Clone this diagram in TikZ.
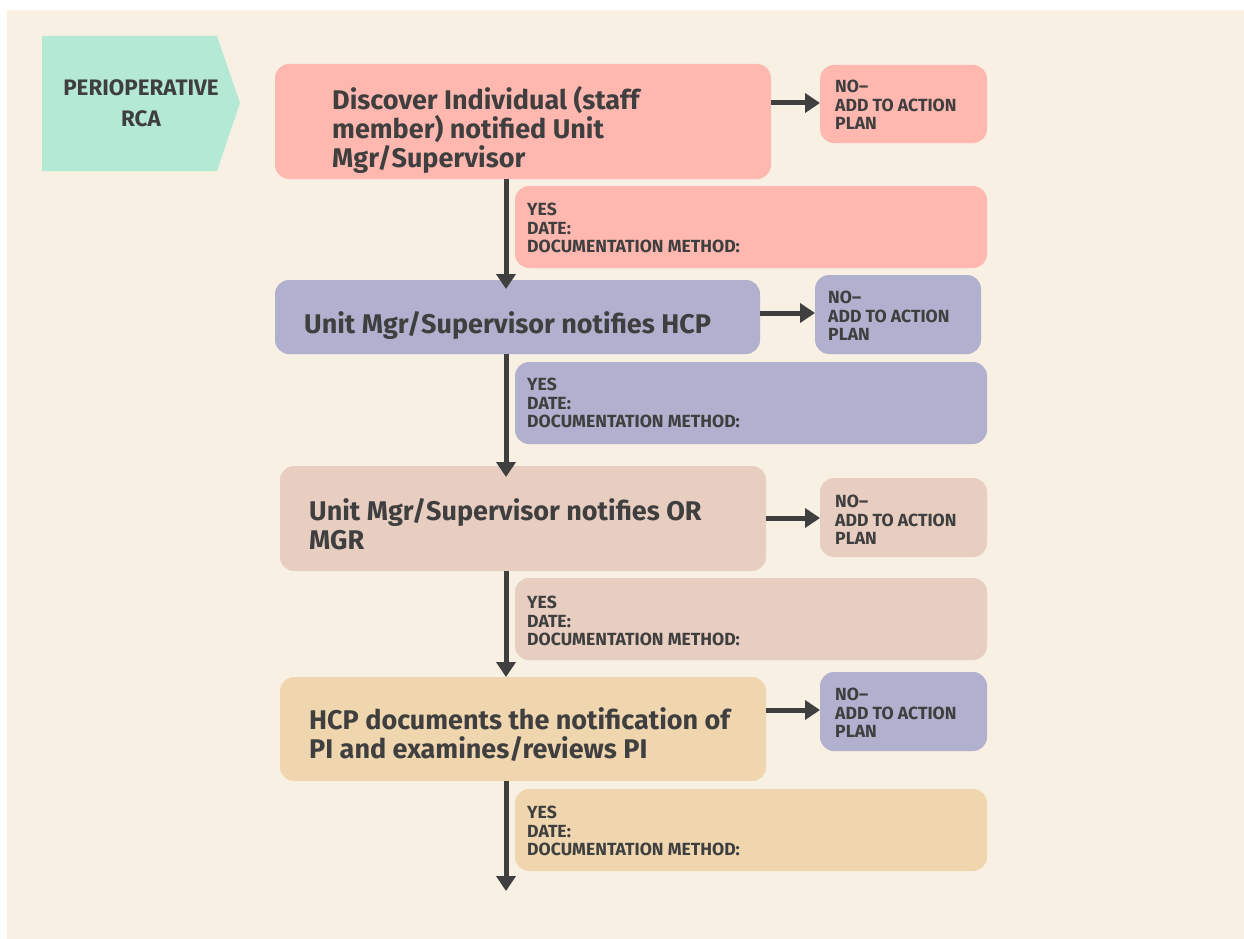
\documentclass[tikz,border=0pt]{standalone}
\usepackage{fontspec}
\setmainfont{Fira Sans}[UprightFont=* SemiBold,BoldFont=* Bold]
\usetikzlibrary{arrows.meta,positioning}
\definecolor{bgc}{HTML}{F8F0E2}
\definecolor{mint}{HTML}{B4E9D6}
\definecolor{pinkc}{HTML}{FFB8B0}
\definecolor{lav}{HTML}{B1B0CE}
\definecolor{rose}{HTML}{E8CDC1}
\definecolor{tan}{HTML}{EFD6AF}
\definecolor{ink}{HTML}{3F3F3F}
\begin{document}
\begin{tikzpicture}[x=1pt,y=-1pt,
  box/.style={rectangle,rounded corners=14pt,anchor=north west,inner sep=0pt,outer sep=0pt},
  bigtxt/.style={anchor=west,align=left,inner sep=0pt,text=ink,font=\fontsize{27}{29}\selectfont\bfseries},
  smalltxt/.style={anchor=north west,align=left,inner sep=0pt,text=ink,font=\fontsize{17.6}{18.5}\selectfont\bfseries},
  arr/.style={draw=ink,line width=5pt,-{Triangle[width=19pt,length=15pt]}}]
\useasboundingbox (0,0) rectangle (1244,939);
\fill[white] (0,0) rectangle (1244,939);
\fill[bgc] (7,10) rectangle (1244,939);
% start pentagon
\fill[mint] (42,36) -- (217,36) -- (240,103) -- (217,171) -- (42,171) -- cycle;
\node[anchor=center,align=center,inner sep=0pt,text=ink,font=\fontsize{22.4}{31}\selectfont\bfseries] (start) at (141,103) {PERIOPERATIVE\\RCA};
% main boxes
\node[box,fill=pinkc,minimum width=496pt,minimum height=115pt] (b1) at (275,64) {};
\node[box,fill=lav,minimum width=485pt,minimum height=74pt] (b2) at (275,280) {};
\node[box,fill=rose,minimum width=486pt,minimum height=105pt] (b3) at (280,466) {};
\node[box,fill=tan,minimum width=486pt,minimum height=104pt] (b4) at (280,677) {};
\node[bigtxt] (t1) at (332,130) {Discover Individual (staff\\member) notified Unit\\Mgr/Supervisor};
\node[bigtxt] (t2) at (304,325) {Unit Mgr/Supervisor notifies HCP};
\node[bigtxt] (t3) at (309,524) {Unit Mgr/Supervisor notifies OR\\MGR};
\node[bigtxt] (t4) at (309,735) {HCP documents the notification of\\PI and examines/reviews PI};
% NO boxes
\node[box,fill=pinkc,minimum width=167pt,minimum height=78pt] (n1) at (820,65) {};
\node[box,fill=lav,minimum width=166pt,minimum height=79pt] (n2) at (815,275) {};
\node[box,fill=rose,minimum width=167pt,minimum height=79pt] (n3) at (820,478) {};
\node[box,fill=lav,minimum width=167pt,minimum height=79pt] (n4) at (820,672) {};
\node[smalltxt] (nt1) at (835,80) {NO--\\ADD TO ACTION\\PLAN};
\node[smalltxt] (nt2) at (828,291) {NO--\\ADD TO ACTION\\PLAN};
\node[smalltxt] (nt3) at (835,495) {NO--\\ADD TO ACTION\\PLAN};
\node[smalltxt] (nt4) at (835,688) {NO--\\ADD TO ACTION\\PLAN};
% YES boxes
\node[box,fill=pinkc,minimum width=472pt,minimum height=82pt] (y1) at (515,186) {};
\node[box,fill=lav,minimum width=472pt,minimum height=82pt] (y2) at (515,362) {};
\node[box,fill=rose,minimum width=472pt,minimum height=82pt] (y3) at (515,578) {};
\node[box,fill=tan,minimum width=472pt,minimum height=82pt] (y4) at (515,789) {};
\node[smalltxt] (yt1) at (527,203) {YES\\DATE:\\DOCUMENTATION METHOD:};
\node[smalltxt] (yt2) at (527,378) {YES\\DATE:\\DOCUMENTATION METHOD:};
\node[smalltxt] (yt3) at (527,596) {YES\\DATE:\\DOCUMENTATION METHOD:};
\node[smalltxt] (yt4) at (527,806) {YES\\DATE:\\DOCUMENTATION METHOD:};
% connectors
\coordinate (vx) at (506,0);
\coordinate (endpt) at (506,891);
\draw[arr] (b1.east |- 0,103) -- (n1.west |- 0,103);
\draw[arr] (b2.east |- 0,313) -- (n2.west |- 0,313);
\draw[arr] (b3.east |- 0,518) -- (n3.west |- 0,518);
\draw[arr] (b4.east |- 0,710) -- (n4.west |- 0,710);
\draw[arr,shorten >=-9pt] (b1.south -| vx) -- (b2.north -| vx);
\draw[arr,shorten >=-11pt] (b2.south -| vx) -- (b3.north -| vx);
\draw[arr] (b3.south -| vx) -- (b4.north -| vx);
\draw[arr] (b4.south -| vx) -- (endpt);
\end{tikzpicture}
\end{document}
